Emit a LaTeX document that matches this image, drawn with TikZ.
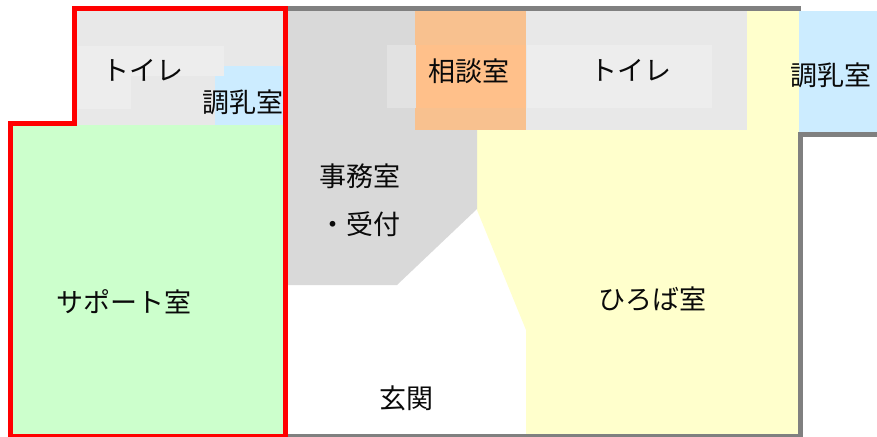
\documentclass[tikz,border=0pt]{standalone}
\usepackage{fontspec}
\setmainfont{Noto Sans CJK JP}
\definecolor{wallred}{RGB}{255,0,0}
\definecolor{wallgray}{RGB}{128,128,128}
\definecolor{roomgreen}{RGB}{204,255,204}
\definecolor{roomyellow}{RGB}{255,255,204}
\definecolor{roomblue}{RGB}{204,236,255}
\definecolor{roomorange}{RGB}{248,193,143}
\definecolor{labelorange}{RGB}{255,192,138}
\definecolor{roomgray}{RGB}{217,217,217}
\definecolor{toiletgray}{RGB}{232,232,232}
\definecolor{labelgray}{RGB}{237,237,237}
\definecolor{labelgrayb}{RGB}{226,226,226}
\definecolor{inkblack}{RGB}{10,10,10}
\tikzset{
  x=1pt,y=-1pt,
  roomlabel/.style={font=\fontsize{27}{30}\selectfont,text=inkblack,inner sep=0pt,anchor=center},
  redwall/.style={draw=wallred,line width=5pt,miter limit=10},
  graywall/.style={draw=wallgray,line width=5pt},
}
\begin{document}
\begin{tikzpicture}
\useasboundingbox (0,0) rectangle (877,436);
% room fills
\fill[roomgreen] (11,125) rectangle (285,434);
\fill[roomyellow] (477,130) -- (747,130) -- (747,11) -- (800,11) -- (800,434) -- (526,434) -- (526,330) -- (477,210) -- cycle;
\fill[roomgray] (287,11) -- (477,11) -- (477,209) -- (397,285) -- (287,285) -- cycle;
\fill[toiletgray] (77,11) rectangle (285,125);
\fill[toiletgray] (526,11) rectangle (747,130);
\fill[roomorange] (415,11) rectangle (526,130);
\fill[roomblue] (799,11) rectangle (877,132);
\fill[roomblue] (215,66) rectangle (285,125);
% pale label backgrounds
\fill[labelgray] (78,46) rectangle (224,76);
\fill[labelgray] (78,76) rectangle (131,109);
\fill[labelgrayb] (387,45) rectangle (416,108);
\fill[labelorange] (416,45) rectangle (526,108);
\fill[labelgray] (527,45) rectangle (712,108);
% walls
\draw[graywall] (285,8.5) -- (800.5,8.5);
\draw[graywall] (877,134.5) -- (800.5,134.5) -- (800.5,438);
\draw[graywall] (285,436.5) -- (803,436.5);
\draw[redwall] (285.5,436.5) -- (285.5,8.5) -- (74.5,8.5) -- (74.5,123.5) -- (10.5,123.5) -- (10.5,436.5) -- cycle;
% labels
\node[roomlabel] (toiletA) at (142.5,70) {トイレ};
\node[roomlabel] (nursingA) at (243,102) {調乳室};
\node[roomlabel] (consult) at (469,71) {相談室};
\node[roomlabel] (toiletB) at (630.5,70) {トイレ};
\node[roomlabel] (nursingB) at (831,75) {調乳室};
\node[roomlabel] (office) at (360,176) {事務室};
\node[roomlabel] (reception) at (360,224) {・受付};
\node[roomlabel] (support) at (124,302) {サポート室};
\node[roomlabel] (plaza) at (652,299) {ひろば室};
\node[roomlabel] (entrance) at (406,398) {玄関};
\end{tikzpicture}
\end{document}
